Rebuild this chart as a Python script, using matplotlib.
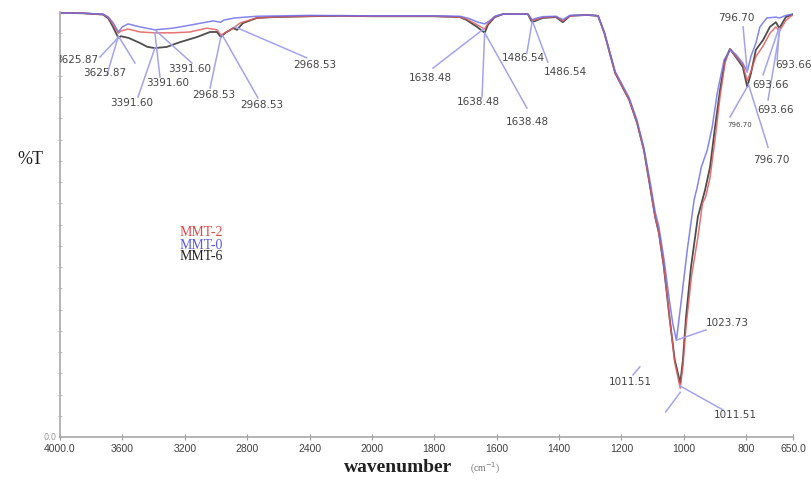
import numpy as np
import matplotlib
matplotlib.use("Agg")
import matplotlib.pyplot as plt

# FTIR spectra (%T vs wavenumber)
wn_mmt6 = [4000, 3850, 3724, 3690, 3660, 3625.87, 3610, 3560, 3487, 3440, 3391.6, 3314,
           3231, 3122, 3038, 2994, 2968.53, 2940, 2890, 2865, 2827, 2737, 2635, 2400,
           2200, 2000, 1800, 1718, 1696, 1663, 1638.48, 1628, 1606, 1580, 1500, 1486.54,
           1470, 1452, 1410, 1388, 1365, 1311, 1275, 1255, 1220, 1175, 1150, 1128, 1108,
           1092, 1080, 1064, 1046, 1029, 1011.51, 1003, 993, 977, 955, 932, 916, 900,
           884, 868, 852, 833, 811, 796.7, 785, 769, 746, 724, 705, 693.66, 673, 657, 650]
t_mmt6 = [99.8, 99.7, 99.4, 98.5, 96.5, 93.9, 94.3, 93.9, 92.7, 91.8, 91.5, 91.8,
          92.9, 94.1, 95.3, 95.3, 94.1, 95.1, 96.2, 95.8, 97.4, 98.6, 98.8, 99.0,
          99.1, 99.0, 99.0, 98.8, 98.1, 96.5, 95.1, 97.0, 98.8, 99.5, 99.5, 97.6,
          98.1, 98.6, 98.8, 97.6, 99.1, 99.3, 99.1, 95.1, 85.6, 79.3, 73.9, 67.5, 58.8,
          51.8, 48.0, 40.0, 28.2, 18.1, 12.7, 18.1, 28.2, 40.0, 51.8, 58.1, 63.5, 72.9,
          81.6, 88.7, 91.3, 89.4, 87.1, 82.4, 85.5, 91.1, 93.4, 96.5, 97.6, 96.2, 98.8, 99.3, 99.5]

wn_mmt2 = [4000, 3850, 3724, 3690, 3660, 3625.87, 3610, 3564, 3487, 3391.6, 3276, 3167,
           3058, 2994, 2968.53, 2929, 2878, 2846, 2737, 2635, 2400, 2200, 2000, 1800,
           1718, 1696, 1663, 1638.48, 1628, 1606, 1580, 1500, 1486.54, 1470, 1452, 1410,
           1388, 1365, 1311, 1275, 1255, 1220, 1175, 1150, 1128, 1108, 1092, 1080, 1064,
           1046, 1029, 1011.51, 1003, 993, 975, 955, 940, 930, 916, 900, 884, 868, 852,
           833, 811, 796.7, 785, 769, 746, 724, 705, 693.66, 673, 657, 650]
t_mmt2 = [99.8, 99.7, 99.4, 98.7, 97.0, 95.0, 95.5, 96.0, 95.3, 95.1, 95.1, 95.3,
          96.2, 95.8, 94.6, 95.3, 96.5, 97.4, 98.6, 98.8, 99.0, 99.1, 99.0, 99.0,
          98.8, 98.3, 97.0, 96.0, 97.3, 98.9, 99.5, 99.5, 98.0, 98.3, 98.7, 98.9,
          97.9, 99.1, 99.3, 99.1, 95.1, 85.6, 79.3, 73.9, 67.5, 58.8, 51.8, 48.0, 40.0,
          28.2, 17.5, 11.5, 16.5, 26.0, 38.0, 47.0, 55.0, 56.5, 61.0, 70.0, 80.0, 88.0, 91.3,
          89.6, 87.6, 83.8, 86.0, 89.5, 92.0, 95.0, 96.5, 95.5, 98.0, 99.0, 99.3]

wn_mmt0 = [4000, 3850, 3724, 3690, 3660, 3625.87, 3600, 3564, 3487, 3391.6, 3276, 3167,
           3019, 2968.53, 2950, 2878, 2737, 2400, 2000, 1800, 1718, 1690, 1660, 1638.48,
           1625, 1606, 1580, 1500, 1486.54, 1470, 1452, 1410, 1388, 1365, 1311, 1275,
           1255, 1220, 1175, 1150, 1128, 1108, 1092, 1080, 1064, 1046, 1035, 1023.73,
           1008, 989, 967, 957, 944, 925, 909, 893, 871, 851, 833, 811, 796.7, 785, 769,
           756, 734, 705, 693.66, 673, 657, 650]
t_mmt0 = [99.8, 99.7, 99.5, 98.8, 97.5, 95.3, 96.5, 97.2, 96.5, 95.8, 96.2, 96.9,
          97.9, 97.6, 98.1, 98.6, 99.0, 99.2, 99.1, 99.1, 99.0, 98.5, 97.6, 97.2,
          97.8, 99.0, 99.5, 99.5, 98.2, 98.6, 98.9, 99.0, 98.2, 99.2, 99.3, 99.1,
          95.3, 86.0, 79.8, 74.5, 68.0, 60.0, 53.0, 49.5, 42.0, 32.0, 26.5, 22.8,
          32.2, 44.0, 55.8, 58.8, 63.5, 67.5, 72.9, 80.9, 88.7, 91.1, 90.0, 88.0, 85.9, 89.5, 92.7,
          96.5, 98.6, 98.8, 98.6, 99.2, 99.4, 99.5]

xticks = [4000, 3600, 3200, 2800, 2400, 2000, 1800, 1600, 1400, 1200, 1000, 800, 650]
xticklabels = ["4000.0", "3600", "3200", "2800", "2400", "2000", "1800", "1600",
               "1400", "1200", "1000", "800", "650.0"]

# peak labels: text, peak (wn, %T), leader end (wn, %T), text centre (wn, %T), size, clipped
peaks = [
    ("3625.87", (3625.87, 94.0), (3744, 89.4), (3893, 88.7), 7.5, True),
    ("3625.87", (3625.87, 94.3), (3699, 85.2), (3712, 85.6), 7.5, False),
    (None,      (3620, 94.0), (3519, 88.0), None, 7.5, False),
    ("3391.60", (3391.6, 91.5), (3500, 80.0), (3538, 78.6), 7.5, False),
    ("3391.60", (3391.6, 95.1), (3359, 84.7), (3308, 83.3), 7.5, False),
    ("3391.60", (3391.6, 95.8), (3154, 88.0), (3167, 86.6), 7.5, False),
    ("2968.53", (2968.53, 94.1), (3038, 82.1), (3013, 80.5), 7.5, False),
    ("2968.53", (2960, 94.6), (2731, 79.8), (2705, 78.1), 7.5, False),
    ("2968.53", (2878, 96.5), (2417, 89.2), (2365, 87.5), 7.5, False),
    ("1638.48", (1642, 96.0), (1804, 86.8), (1814, 84.5), 7.5, False),
    ("1638.48", (1638.48, 95.1), (1647, 80.0), (1660, 78.8), 7.5, False),
    ("1638.48", (1636, 94.8), (1503, 77.4), (1503, 74.1), 7.5, False),
    ("1486.54", (1486.54, 97.6), (1503, 90.4), (1513, 89.2), 7.5, False),
    ("1486.54", (1484, 97.6), (1436, 88.2), (1381, 85.9), 7.5, False),
    ("796.70", (796.7, 85.9), (810, 96.5), (833, 98.6), 7.5, False),
    ("796.70", (796.7, 82.4), (852, 75.3), (820, 73.4), 5, False),
    ("796.70", (793, 83.0), (730, 68.2), (718, 65.2), 7.5, False),
    ("693.66", (693.66, 96.2), (701, 88.7), (647, 87.5), 7.5, False),
    ("693.66", (696, 96.0), (746, 85.2), (721, 82.8), 7.5, False),
    ("693.66", (692, 95.8), (730, 79.3), (705, 76.9), 7.5, False),
    ("1023.73", (1023.73, 22.8), (929, 25.2), (859, 26.8), 7.5, False),
    ("1011.51", (1011.51, 12.0), (875, 6.4), (836, 5.2), 7.5, False),
    (None,      (1011.51, 10.5), (1058, 5.9), None, 7.5, False),
    ("1011.51", (1163, 14.6), (1141, 16.5), (1173, 12.9), 7.5, False),
]


def fwd(w):
    w = np.asarray(w, dtype=float)
    return np.where(w >= 2000, (w - 2000) / 400.0, (w - 2000) / 200.0)


def inv(u):
    u = np.asarray(u, dtype=float)
    return np.where(u >= 0, 2000 + 400.0 * u, 2000 + 200.0 * u)


fig = plt.figure(figsize=(8.11, 4.83), dpi=100)
ax = fig.add_axes([60 / 811, 46 / 483, 733 / 811, 425 / 483])
ax.set_xscale("function", functions=(fwd, inv))

ax.plot(wn_mmt6, t_mmt6, color="#3a3a3a", lw=1.3, alpha=0.9)
ax.plot(wn_mmt2, t_mmt2, color="#e25a5a", lw=1.1, alpha=0.85)
ax.plot(wn_mmt0, t_mmt0, color="#6f6fea", lw=1.1, alpha=0.85)

lead = "#a3a3f0"
for label, xy, end, txt, size, clip in peaks:
    ax.plot([xy[0], end[0]], [xy[1], end[1]], color=lead, lw=1.1, clip_on=False)
    if label:
        ax.text(txt[0], txt[1], label, fontsize=size, color="#454545",
                family="DejaVu Sans", ha="center", va="center", clip_on=clip)

ax.set_xlim(4000, 650)
ax.set_ylim(0, 100)
ax.set_xticks(xticks)
ax.set_xticklabels(xticklabels, family="Liberation Sans", fontsize=7.5, color="#404040")
ax.set_yticks([0])
ax.set_yticklabels(["0.0"], fontsize=6, color="#999999")
ax.set_yticks(np.arange(5, 100, 5), minor=True)
ax.tick_params(axis="x", direction="inout", length=4, color="#9a9a9a", pad=3)
ax.tick_params(axis="y", which="both", direction="inout", length=3, color="#bbbbbb", pad=1)

for s in ["top", "right"]:
    ax.spines[s].set_visible(False)
for s in ["left", "bottom"]:
    ax.spines[s].set_color("#a8a8a8")
    ax.spines[s].set_linewidth(1.2)

fig.text(30 / 811, 1 - 160 / 483, "%T", family="Liberation Serif", fontsize=13,
         ha="center", va="center", color="#202020")
fig.text(398 / 811, 1 - 467 / 483, "wavenumber", family="Liberation Serif", fontsize=14,
         fontweight="bold", ha="center", va="center", color="#202020")
fig.text(470 / 811, 1 - 468 / 483, "(cm$^{-1}$)", family="Liberation Serif", fontsize=7,
         ha="left", va="center", color="#777777")

fig.text(180 / 811, 1 - 233 / 483, "MMT-2", family="Liberation Serif", fontsize=10,
         color="#e04848", va="center")
fig.text(180 / 811, 1 - 245 / 483, "MMT-0", family="Liberation Serif", fontsize=10,
         color="#5a5ae6", va="center")
fig.text(180 / 811, 1 - 257 / 483, "MMT-6", family="Liberation Serif", fontsize=10,
         color="#202020", va="center")

fig.savefig("out.png", dpi=100)
